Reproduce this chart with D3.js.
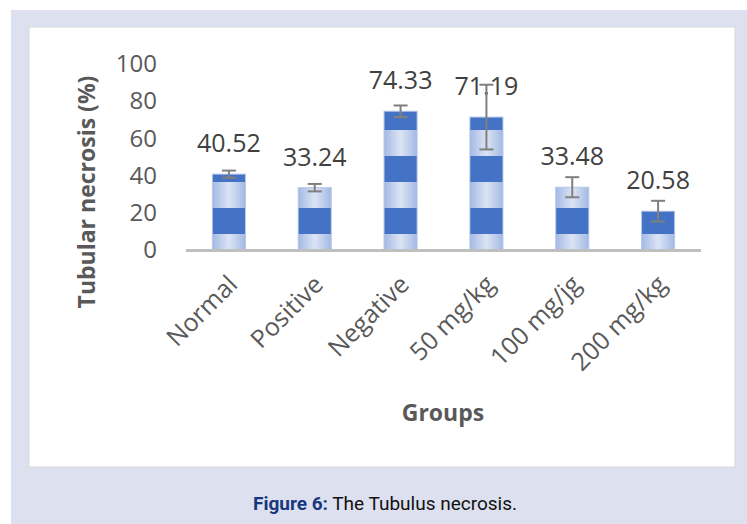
<!DOCTYPE html>
<html>
<head>
<meta charset="utf-8">
<script src="https://cdn.jsdelivr.net/npm/d3@7"></script>
<style>
body { margin: 0; background: #fff; }
</style>
</head>
<body>
<div id="chart"></div>
<script>
var groups = ["Normal", "Positive", "Negative", "50 mg/kg", "100 mg/jg", "200 mg/kg"];
var necrosis = [40.52, 33.24, 74.33, 71.19, 33.48, 20.58];
var errors = [1.9, 2.0, 3.1, 17.4, 5.4, 5.6];
var yTicks = [0, 20, 40, 60, 80, 100];

var data = groups.map(function(g, i) {
	return {group: g, value: necrosis[i], err: errors[i]};
});

var width = 747, height = 524;

var svg = d3.select("#chart").append("svg")
	.attr("width", width)
	.attr("height", height)
	.style("display", "block");

// frame
svg.append("rect")
	.attr("x", 11).attr("y", 10)
	.attr("width", width - 11).attr("height", height - 10)
	.attr("fill", "#dde0ef");

svg.append("rect")
	.attr("x", 29).attr("y", 27)
	.attr("width", 706).attr("height", 440)
	.attr("fill", "#fff")
	.attr("stroke", "#d9d9d9");

var x = d3.scaleBand()
	.domain(groups)
	.range([186, 701])
	.paddingInner(0.615)
	.paddingOuter(0.3075);

var y = d3.scaleLinear()
	.domain([0, 100])
	.range([249.5, 63.5]);

var defs = svg.append("defs");

var grad = defs.append("linearGradient")
	.attr("id", "lightGrad")
	.attr("x1", "0%").attr("x2", "100%")
	.attr("y1", "0%").attr("y2", "0%");
grad.append("stop").attr("offset", "0%").attr("stop-color", "#a3b9e4");
grad.append("stop").attr("offset", "50%").attr("stop-color", "#dbe4f4");
grad.append("stop").attr("offset", "100%").attr("stop-color", "#a3b9e4");

var stripe = 26;
var stripes = defs.append("pattern")
	.attr("id", "stripes")
	.attr("patternUnits", "userSpaceOnUse")
	.attr("x", 0)
	.attr("y", y(0) - 15.5 - stripe)
	.attr("width", 20)
	.attr("height", stripe * 2);
stripes.append("rect")
	.attr("width", 20).attr("height", stripe)
	.attr("fill", "#4472c4");

// y tick labels
svg.append("g")
	.selectAll("text")
	.data(yTicks)
	.enter().append("text")
	.attr("x", 157)
	.attr("y", function(d) { return y(d); })
	.attr("dy", "0.36em")
	.attr("text-anchor", "end")
	.style("font-family", "'Open Sans', sans-serif")
	.style("font-size", "24px")
	.attr("fill", "#595959")
	.text(function(d) { return d; });

// bars
var bars = svg.append("g");
bars.selectAll(".bar")
	.data(data)
	.enter().append("rect")
	.attr("class", "bar")
	.attr("x", function(d) { return x(d.group); })
	.attr("width", x.bandwidth())
	.attr("y", function(d) { return y(d.value); })
	.attr("height", function(d) { return y(0) - y(d.value); })
	.attr("fill", "url(#lightGrad)")
	.attr("stroke", "#b4c7e7")
	.attr("stroke-width", 1);

bars.selectAll(".stripe")
	.data(data)
	.enter().append("rect")
	.attr("class", "stripe")
	.attr("x", function(d) { return x(d.group) + 0.5; })
	.attr("width", x.bandwidth() - 1)
	.attr("y", function(d) { return y(d.value) + 0.5; })
	.attr("height", function(d) { return y(0) - y(d.value) - 0.5; })
	.attr("fill", "url(#stripes)");

// x axis line
svg.append("line")
	.attr("x1", x.range()[0]).attr("x2", x.range()[1])
	.attr("y1", y(0) + 1).attr("y2", y(0) + 1)
	.attr("stroke", "#bfbfbf")
	.attr("stroke-width", 3);

// value labels
svg.append("g")
	.selectAll("text")
	.data(data)
	.enter().append("text")
	.attr("x", function(d) { return x(d.group) + x.bandwidth() / 2; })
	.attr("y", function(d) { return y(d.value) - 22; })
	.attr("text-anchor", "middle")
	.style("font-family", "'Open Sans', sans-serif")
	.style("font-size", "25px")
	.attr("fill", "#404040")
	.text(function(d) { return d.value.toFixed(2); });

// error bars
var eb = svg.append("g")
	.attr("stroke", "#7f7f7f")
	.attr("stroke-width", 2);
eb.selectAll(".ebv")
	.data(data)
	.enter().append("line")
	.attr("x1", function(d) { return x(d.group) + x.bandwidth() / 2; })
	.attr("x2", function(d) { return x(d.group) + x.bandwidth() / 2; })
	.attr("y1", function(d) { return y(d.value - d.err); })
	.attr("y2", function(d) { return y(d.value + d.err); });
[-1, 1].forEach(function(s) {
	eb.selectAll(".cap" + s)
		.data(data)
		.enter().append("line")
		.attr("x1", function(d) { return x(d.group) + x.bandwidth() / 2 - 7; })
		.attr("x2", function(d) { return x(d.group) + x.bandwidth() / 2 + 7; })
		.attr("y1", function(d) { return y(d.value + s * d.err); })
		.attr("y2", function(d) { return y(d.value + s * d.err); });
});

// x tick labels
svg.append("g")
	.selectAll("text")
	.data(groups)
	.enter().append("text")
	.attr("transform", function(d) {
		return "translate(" + (x(d) + x.bandwidth() / 2 + 10) + "," + 286 + ") rotate(-45)";
	})
	.attr("text-anchor", "end")
	.style("font-family", "'Open Sans', sans-serif")
	.style("font-size", "25px")
	.attr("fill", "#595959")
	.text(function(d) { return d; });

// axis titles
svg.append("text")
	.attr("transform", "translate(87,192) rotate(-90)")
	.attr("dy", "0.35em")
	.attr("text-anchor", "middle")
	.style("font-family", "'Open Sans', sans-serif")
	.style("font-size", "23px")
	.style("font-weight", "bold")
	.attr("fill", "#595959")
	.text("Tubular necrosis (%)");

svg.append("text")
	.attr("x", 443)
	.attr("y", 421)
	.attr("text-anchor", "middle")
	.style("font-family", "'Open Sans', sans-serif")
	.style("font-size", "23px")
	.style("font-weight", "bold")
	.attr("fill", "#595959")
	.text("Groups");

// caption
var cap = svg.append("text")
	.attr("x", 385)
	.attr("y", 510)
	.attr("text-anchor", "middle")
	.style("font-family", "'Liberation Sans Narrow', 'Roboto', sans-serif")
	.style("font-size", "19px")
	.attr("fill", "#111");
cap.append("tspan")
	.style("font-weight", "bold")
	.attr("fill", "#17377f")
	.text("Figure 6:");
cap.append("tspan")
	.text(" The Tubulus necrosis.");
</script>
</body>
</html>
